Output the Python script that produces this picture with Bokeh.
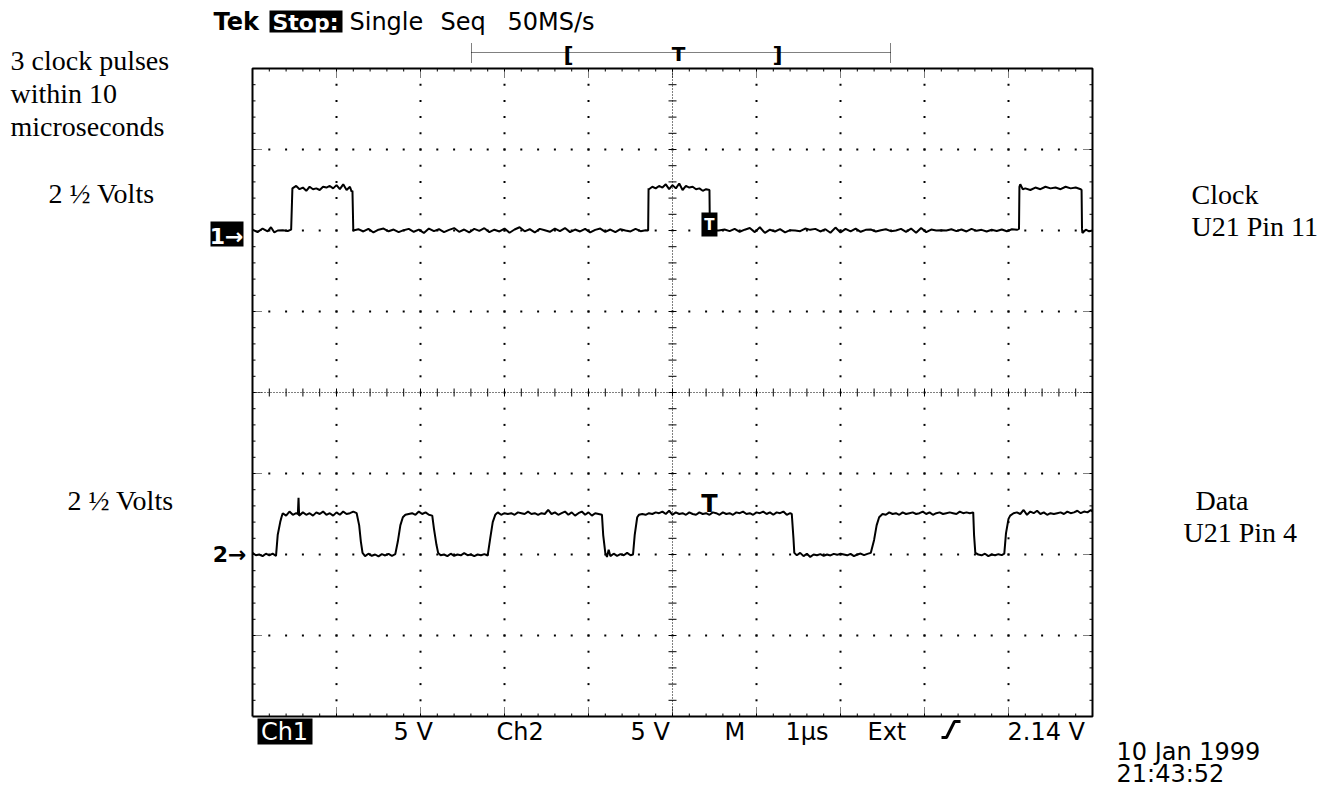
from bokeh.plotting import figure
from bokeh.models import Range1d
from bokeh.core.properties import value
from bokeh.embed import file_html
from bokeh.resources import INLINE

time_per_div_us = 1.0
volts_per_div = 5.0
n_xdiv = 10
n_ydiv = 8
ch1_ground_div = 2.0
ch2_ground_div = -2.0
trigger_time_us = 5.44

ch1_points = [
    (0.00, 0.05), (0.06, -0.10), (0.12, 0.12), (0.18, -0.05), (0.22, 0.20), (0.26, -0.12),
    (0.30, 0.00), (0.36, 0.02), (0.42, -0.03), (0.46, 0.05), (0.465, 0.90), (0.475, 2.60),
    (0.52, 2.75), (0.56, 2.55), (0.60, 2.65), (0.64, 2.45), (0.68, 2.70), (0.72, 2.55),
    (0.76, 2.60), (0.80, 2.50), (0.84, 2.70), (0.88, 2.65), (0.92, 2.75), (0.96, 2.60),
    (1.00, 2.80), (1.04, 2.55), (1.08, 2.85), (1.12, 2.50), (1.16, 2.70), (1.18, 2.40),
    (1.19, 2.45), (1.195, 1.20),
    (1.20, 0.00), (1.26, 0.08), (1.32, -0.06), (1.38, 0.10), (1.44, -0.12), (1.50, 0.05),
    (1.56, 0.12), (1.62, -0.05), (1.68, 0.06), (1.74, -0.10), (1.80, 0.02), (1.86, 0.10),
    (1.92, -0.08), (1.98, 0.05), (2.04, -0.15), (2.10, 0.12), (2.16, -0.04), (2.22, 0.08),
    (2.28, -0.10), (2.34, 0.04), (2.40, 0.15), (2.46, -0.08), (2.52, 0.06), (2.58, -0.12),
    (2.64, 0.10), (2.70, -0.02), (2.76, 0.14), (2.82, -0.10), (2.88, 0.05), (2.94, -0.06),
    (3.00, 0.12), (3.06, -0.14), (3.12, 0.06), (3.18, 0.20), (3.24, -0.05), (3.30, 0.08),
    (3.36, -0.12), (3.42, 0.10), (3.48, 0.02), (3.54, -0.08), (3.60, 0.12), (3.66, -0.04),
    (3.72, 0.15), (3.78, -0.10), (3.84, 0.06), (3.90, -0.06), (3.96, 0.10), (4.02, -0.12),
    (4.08, 0.04), (4.14, 0.12), (4.20, -0.08), (4.26, 0.06), (4.32, -0.10), (4.38, 0.08),
    (4.44, 0.00), (4.50, -0.06), (4.56, 0.10), (4.62, -0.04), (4.68, 0.02), (4.71, 0.00),
    (4.715, 2.60), (4.72, 2.55), (4.76, 2.70), (4.80, 2.60), (4.84, 2.75), (4.88, 2.65),
    (4.92, 2.85), (4.96, 2.55), (5.00, 2.80), (5.04, 2.60), (5.08, 2.90), (5.12, 2.50),
    (5.16, 2.75), (5.20, 2.65), (5.24, 2.70), (5.28, 2.55), (5.32, 2.60), (5.36, 2.45),
    (5.40, 2.55), (5.44, 2.50), (5.445, 0.00),
    (5.55, 0.00), (5.62, 0.06), (5.68, -0.04), (5.74, 0.10), (5.80, -0.08), (5.86, 0.05),
    (5.92, 0.15), (5.98, -0.10), (6.04, 0.20), (6.10, -0.15), (6.16, 0.05), (6.22, -0.06),
    (6.28, 0.08), (6.34, -0.12), (6.40, 0.02), (6.46, 0.00), (6.52, -0.04), (6.58, 0.12),
    (6.64, 0.04), (6.70, 0.10), (6.76, -0.06), (6.82, 0.08), (6.88, -0.14), (6.94, 0.18),
    (7.00, -0.12), (7.06, 0.10), (7.12, -0.05), (7.18, 0.12), (7.24, -0.08), (7.30, 0.04),
    (7.36, 0.06), (7.42, -0.06), (7.48, 0.02), (7.54, 0.08), (7.60, -0.04), (7.66, 0.00),
    (7.72, 0.10), (7.78, -0.08), (7.84, 0.12), (7.90, -0.14), (7.96, 0.16), (8.02, -0.10),
    (8.08, 0.06), (8.14, 0.00), (8.20, 0.02), (8.26, 0.00), (8.32, 0.08), (8.38, -0.04),
    (8.44, 0.06), (8.50, -0.06), (8.56, 0.10), (8.62, -0.02), (8.68, 0.04), (8.74, -0.06),
    (8.80, 0.05), (8.86, -0.03), (8.92, 0.06), (8.98, -0.05), (9.04, 0.08), (9.10, 0.04),
    (9.125, 0.10), (9.13, 2.70), (9.14, 2.85), (9.17, 2.55), (9.20, 2.60), (9.26, 2.50),
    (9.32, 2.65), (9.38, 2.55), (9.44, 2.70), (9.50, 2.60), (9.56, 2.65), (9.62, 2.55),
    (9.68, 2.70), (9.74, 2.60), (9.80, 2.65), (9.86, 2.55), (9.87, 2.50), (9.875, 0.10),
    (9.88, -0.15), (9.92, 0.05), (9.96, -0.05), (10.00, 0.00),
]

ch2_points = [
    (0.00, 0.10), (0.04, -0.05), (0.08, 0.00), (0.12, -0.10), (0.16, 0.05), (0.20, -0.05),
    (0.24, 0.05), (0.28, -0.08), (0.30, 1.20), (0.33, 2.00), (0.345, 2.30), (0.36, 2.55),
    (0.40, 2.40), (0.44, 2.65), (0.48, 2.45), (0.52, 2.55), (0.54, 2.50), (0.548, 3.50),
    (0.555, 2.40), (0.60, 2.60), (0.64, 2.45), (0.68, 2.55), (0.72, 2.40), (0.76, 2.60),
    (0.80, 2.50), (0.84, 2.65), (0.88, 2.45), (0.92, 2.55), (0.96, 2.40), (1.00, 2.60),
    (1.04, 2.45), (1.08, 2.65), (1.12, 2.50), (1.16, 2.55), (1.20, 2.65), (1.24, 2.55),
    (1.27, 1.80), (1.29, 0.80), (1.31, 0.10), (1.34, -0.10), (1.38, 0.05), (1.42, -0.08),
    (1.46, 0.00), (1.50, -0.12), (1.54, 0.02), (1.58, -0.06), (1.62, 0.04), (1.66, -0.08),
    (1.70, 0.02), (1.73, 0.80), (1.76, 1.80), (1.79, 2.30), (1.82, 2.45), (1.86, 2.50),
    (1.90, 2.55), (1.94, 2.45), (1.98, 2.65), (2.02, 2.50), (2.06, 2.60), (2.10, 2.45),
    (2.14, 2.40), (2.16, 1.60), (2.19, 0.60), (2.21, 0.10), (2.24, -0.05), (2.28, 0.00),
    (2.32, -0.10), (2.36, 0.05), (2.40, -0.08), (2.44, 0.00), (2.48, -0.05), (2.52, 0.08),
    (2.56, -0.04), (2.60, 0.00), (2.64, -0.10), (2.68, 0.00), (2.72, -0.05), (2.76, 0.02),
    (2.80, -0.06), (2.83, 1.00), (2.86, 2.00), (2.89, 2.45), (2.92, 2.60), (2.96, 2.45),
    (3.00, 2.55), (3.04, 2.50), (3.08, 2.55), (3.12, 2.45), (3.16, 2.60), (3.20, 2.55),
    (3.24, 2.50), (3.28, 2.65), (3.32, 2.50), (3.36, 2.55), (3.40, 2.45), (3.44, 2.55),
    (3.48, 2.50), (3.52, 2.75), (3.56, 2.50), (3.60, 2.60), (3.64, 2.45), (3.68, 2.55),
    (3.72, 2.65), (3.76, 2.45), (3.80, 2.60), (3.84, 2.40), (3.88, 2.55), (3.92, 2.65),
    (3.96, 2.45), (4.00, 2.60), (4.04, 2.40), (4.08, 2.55), (4.12, 2.50), (4.16, 2.45),
    (4.175, 1.20), (4.20, 0.10), (4.22, -0.15), (4.24, 0.30), (4.26, -0.10), (4.30, 0.05),
    (4.34, -0.08), (4.38, 0.02), (4.42, -0.05), (4.46, 0.10), (4.50, -0.05), (4.53, 0.00),
    (4.55, 1.20), (4.58, 2.30), (4.60, 2.45), (4.64, 2.50), (4.68, 2.45), (4.72, 2.55),
    (4.76, 2.50), (4.80, 2.60), (4.84, 2.55), (4.88, 2.65), (4.92, 2.50), (4.96, 2.70),
    (5.00, 2.45), (5.04, 2.60), (5.08, 2.50), (5.12, 2.55), (5.16, 2.45), (5.20, 2.60),
    (5.24, 2.50), (5.28, 2.45), (5.32, 2.60), (5.36, 2.50), (5.40, 2.55), (5.44, 2.45),
    (5.48, 2.60), (5.52, 2.55), (5.56, 2.45), (5.60, 2.60), (5.64, 2.50), (5.68, 2.55),
    (5.72, 2.45), (5.76, 2.60), (5.80, 2.55), (5.84, 2.65), (5.88, 2.50), (5.92, 2.55),
    (5.96, 2.45), (6.00, 2.60), (6.04, 2.55), (6.08, 2.65), (6.12, 2.50), (6.16, 2.60),
    (6.20, 2.45), (6.24, 2.60), (6.28, 2.55), (6.32, 2.65), (6.36, 2.45), (6.40, 2.55),
    (6.42, 2.50), (6.44, 1.00), (6.45, 0.10), (6.48, -0.05), (6.52, 0.10), (6.56, -0.10),
    (6.60, 0.05), (6.64, -0.15), (6.68, 0.00), (6.72, -0.05), (6.76, 0.02), (6.80, -0.08),
    (6.84, 0.00), (6.88, -0.06), (6.92, 0.04), (6.96, -0.02), (7.00, 0.05), (7.04, 0.00),
    (7.08, -0.05), (7.12, 0.04), (7.16, -0.10), (7.20, 0.00), (7.24, 0.06), (7.28, -0.04),
    (7.32, 0.04), (7.36, 0.10), (7.40, 0.90), (7.43, 1.80), (7.46, 2.30), (7.50, 2.50),
    (7.54, 2.45), (7.58, 2.60), (7.62, 2.50), (7.66, 2.55), (7.70, 2.45), (7.74, 2.60),
    (7.78, 2.50), (7.82, 2.55), (7.86, 2.60), (7.90, 2.50), (7.94, 2.55), (7.98, 2.65),
    (8.02, 2.50), (8.06, 2.60), (8.10, 2.45), (8.14, 2.55), (8.18, 2.60), (8.22, 2.50),
    (8.26, 2.55), (8.30, 2.60), (8.34, 2.55), (8.38, 2.50), (8.42, 2.65), (8.46, 2.55),
    (8.50, 2.60), (8.54, 2.55), (8.58, 2.60), (8.59, 1.20), (8.605, 0.10), (8.64, 0.00),
    (8.68, -0.05), (8.72, 0.05), (8.76, -0.10), (8.80, 0.00), (8.84, -0.05), (8.88, 0.02),
    (8.92, -0.04), (8.95, 0.05), (8.97, 1.30), (9.00, 2.20), (9.02, 2.40), (9.06, 2.55),
    (9.10, 2.60), (9.14, 2.50), (9.18, 2.75), (9.22, 2.45), (9.26, 2.65), (9.30, 2.55),
    (9.34, 2.70), (9.38, 2.50), (9.42, 2.60), (9.46, 2.45), (9.50, 2.55), (9.54, 2.50),
    (9.58, 2.55), (9.62, 2.60), (9.66, 2.50), (9.70, 2.65), (9.74, 2.55), (9.78, 2.60),
    (9.82, 2.70), (9.86, 2.55), (9.90, 2.65), (9.94, 2.60), (9.98, 2.75), (10.00, 2.65),
]

header_labels = ["Tek", "Stop:", "Single", "Seq", "50MS/s"]
bottom_labels = ["Ch1", "5 V", "Ch2", "5 V", "M", "1\u00b5s", "Ext", "2.14 V"]
date_lines = ["10 Jan 1999", "21:43:52"]
note_lines = ["3 clock pulses", "within 10", "microseconds"]
amp_label = "2 \u00bd Volts"
ch1_name = ["Clock", "U21 Pin 11"]
ch2_name = ["Data", "U21 Pin 4"]

# ---------------- layout (picture pixels) ----------------
W, H = 1324, 788
FL, FR, FT, FB = 252, 1092, 68, 716
t_span = n_xdiv * time_per_div_us
v_span = n_ydiv * volts_per_div


def X(px):
    return (px - FL) / (FR - FL) * t_span


def Y(py):
    return ((FT + FB) / 2 - py) / (FB - FT) * v_span


DX = t_span / (FR - FL)
DY = v_span / (FB - FT)

p = figure(width=W, height=H, x_range=Range1d(X(0), X(W)),
           y_range=Range1d(Y(H), Y(0)), x_axis_type=None, y_axis_type=None,
           toolbar_location=None, output_backend="svg", min_border=0)
p.outline_line_color = None
p.grid.visible = False

K = "black"
x0, x1 = 0.0, t_span
y0, y1 = -v_span / 2, v_span / 2
minor_t = [i * 0.2 * time_per_div_us for i in range(1, n_xdiv * 5)]
minor_v = [j * 0.2 * volts_per_div for j in range(-n_ydiv * 5 // 2 + 1, n_ydiv * 5 // 2)]
major_t = [i * time_per_div_us for i in range(1, n_xdiv)]
major_v = [j * volts_per_div for j in range(-n_ydiv // 2 + 1, n_ydiv // 2)]
tc, vc = t_span / 2, 0.0

# dotted division lines
gx, gy = [], []
for t in major_t:
    if abs(t - tc) < 1e-9:
        continue
    for v in minor_v:
        gx.append(t); gy.append(v)
for v in major_v:
    if abs(v - vc) < 1e-9:
        continue
    for t in minor_t:
        gx.append(t); gy.append(v)
p.scatter(gx, gy, marker="square", size=2, color=K, line_color=None)

# centre cross
p.segment([tc, x0], [y0, vc], [tc, x1], [y1, vc], line_color=K, line_width=1, line_dash="1 2")
p.segment([tc - 4 * DX] * len(minor_v), minor_v, [tc + 4 * DX] * len(minor_v), minor_v, line_color=K, line_width=1)
p.segment(minor_t, [vc - 4 * DY] * len(minor_t), minor_t, [vc + 4 * DY] * len(minor_t), line_color=K, line_width=1)

# edge ticks
L = 3
p.segment(minor_t, [y1] * len(minor_t), minor_t, [y1 - L * DY] * len(minor_t), line_color=K, line_width=1)
p.segment(minor_t, [y0] * len(minor_t), minor_t, [y0 + L * DY] * len(minor_t), line_color=K, line_width=1)
p.segment([x0] * len(minor_v), minor_v, [x0 + L * DX] * len(minor_v), minor_v, line_color=K, line_width=1)
p.segment([x1] * len(minor_v), minor_v, [x1 - L * DX] * len(minor_v), minor_v, line_color=K, line_width=1)
M = 10
p.segment(major_t, [y1] * len(major_t), major_t, [y1 - M * DY] * len(major_t), line_color=K, line_width=1, line_dash="1 1")
p.segment(major_t, [y0] * len(major_t), major_t, [y0 + M * DY] * len(major_t), line_color=K, line_width=1, line_dash="1 1")
p.segment([x0] * len(major_v), major_v, [x0 + M * DX] * len(major_v), major_v, line_color=K, line_width=1, line_dash="1 1")
p.segment([x1] * len(major_v), major_v, [x1 - M * DX] * len(major_v), major_v, line_color=K, line_width=1, line_dash="1 1")

# frame
p.line([x0, x1, x1, x0, x0], [y0, y0, y1, y1, y0], line_color=K, line_width=2)

# traces
ch1_t = [a for a, b in ch1_points]
ch1_y = [b + ch1_ground_div * volts_per_div for a, b in ch1_points]
ch2_t = [a for a, b in ch2_points]
ch2_y = [b + ch2_ground_div * volts_per_div for a, b in ch2_points]
p.line(ch1_t, ch1_y, line_color=K, line_width=2)
p.line(ch2_t, ch2_y, line_color=K, line_width=2)

SANS = value("DejaVu Sans")
SERIF = value("Liberation Serif")
BASE_FIX = 0.26   # rendered baseline sits this many em below the requested y


def txt(px, py, s, font=SANS, size=24, color=K, bold=False, align="left"):
    """py is the wanted baseline in picture pixels."""
    p.text([X(px)], [Y(py - BASE_FIX * size)], text=[s], text_font=font, text_font_size=f"{size}px",
           text_color=color, text_align=align, text_baseline="alphabetic",
           text_font_style="bold" if bold else "normal")


def box(pl, pr, pt, pb):
    p.quad(left=[X(pl)], right=[X(pr)], top=[Y(pt)], bottom=[Y(pb)], fill_color=K, line_color=None)


# trigger markers
trig_px = FL + trigger_time_us / DX
box(trig_px - 8, trig_px + 8, 212, 236)
txt(trig_px, 228, "T", size=15, color="white", bold=True, align="center")
txt(trig_px, 510, "T", size=24, bold=True, align="center")

# channel ground markers
box(210, 243, 221, 246)
txt(226, 242, "1\u2192", size=22, color="white", bold=True, align="center")
txt(229, 560, "2\u2192", size=22, bold=True, align="center")

# header
txt(213, 28, header_labels[0], size=24, bold=True)
box(269, 342, 10, 32)
txt(305, 28, header_labels[1], size=22, color="white", bold=True, align="center")
txt(349, 28, header_labels[2], size=24)
txt(440, 28, header_labels[3], size=24)
txt(507, 28, header_labels[4], size=24)

# record view bracket
p.segment([X(471)], [Y(52)], [X(890)], [Y(52)], line_color=K, line_width=1, line_dash="1 1")
p.segment([X(471), X(890)], [Y(43), Y(43)], [X(471), X(890)], [Y(62), Y(62)], line_color=K, line_width=1, line_dash="1 1")
txt(568, 60, "[", size=22, bold=True, align="center")
txt(678, 59, "T", size=20, bold=True, align="center")
txt(777, 60, "]", size=22, bold=True, align="center")

# bottom readout
box(257, 312, 718, 744)
txt(284, 738, bottom_labels[0], size=24, color="white", align="center")
bx = [393, 496, 630, 724, 785, 867, 1007]
for xx, s in zip(bx, bottom_labels[1:]):
    txt(xx, 738, s, size=24)
p.line([X(941), X(946), X(954), X(960)], [Y(737), Y(737), Y(721), Y(721)], line_color=K, line_width=3)

# date / time
txt(1116, 758, date_lines[0], size=24)
txt(1116, 780, date_lines[1], size=24)

# document annotations
for i, s in enumerate(note_lines):
    txt(10, 67 + 33 * i, s, font=SERIF, size=28)
txt(48, 200, amp_label, font=SERIF, size=28)
txt(67, 507, amp_label, font=SERIF, size=28)
txt(1191, 201, ch1_name[0], font=SERIF, size=28)
txt(1191, 233, ch1_name[1], font=SERIF, size=28)
txt(1195, 507, ch2_name[0], font=SERIF, size=28)
txt(1183, 539, ch2_name[1], font=SERIF, size=28)

open("out.html", "w").write(file_html(p, INLINE))
